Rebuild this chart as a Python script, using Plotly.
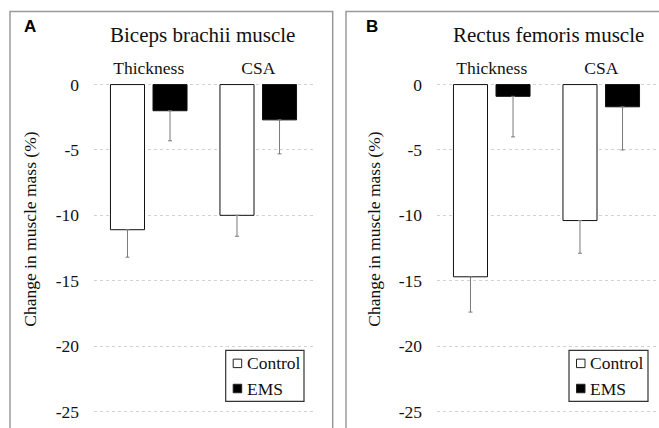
import plotly.graph_objects as go

# Change in muscle mass (%) after the intervention, mean and SD
measures = ["Thickness", "CSA"]
groups = ["Control", "EMS"]

biceps_control = [-11.1, -10.0]
biceps_control_sd = [2.1, 1.6]
biceps_ems = [-2.0, -2.7]
biceps_ems_sd = [2.3, 2.6]

rectus_control = [-14.7, -10.4]
rectus_control_sd = [2.7, 2.5]
rectus_ems = [-0.9, -1.7]
rectus_ems_sd = [3.1, 3.3]

y_ticks = [0, -5, -10, -15, -20, -25]
y_tick_labels = ["0", "-5", "-10", "-15", "-20", "-25"]

W, H = 659, 428
SERIF = "Liberation Serif"
SANS = "Liberation Sans"
INK = "#111111"


def fx(p):
    return p / W


def fy(p):
    return 1 - p / H


def bar(name, x, y, sd, fill, xa, ya):
    return go.Bar(
        name=name, x=x, y=y, xaxis=xa, yaxis=ya, showlegend=False,
        marker=dict(color=fill, line=dict(color="#111111", width=1)),
        error_y=dict(type="data", symmetric=False, array=[0] * len(sd),
                     arrayminus=sd, color="#7a7a7a", thickness=1, width=2),
    )


fig = go.Figure()
fig.add_trace(bar(groups[0], measures, biceps_control, biceps_control_sd, "white", "x", "y"))
fig.add_trace(bar(groups[1], measures, biceps_ems, biceps_ems_sd, "black", "x", "y"))
fig.add_trace(bar(groups[0], measures, rectus_control, rectus_control_sd, "white", "x2", "y2"))
fig.add_trace(bar(groups[1], measures, rectus_ems, rectus_ems_sd, "black", "x2", "y2"))

y_top, y_bot = 76.1, 420.9
text_font = dict(family=SERIF, size=17.5, color=INK)
xaxis_common = dict(side="top", showgrid=False, showline=False, ticks="",
                    tickfont=text_font, range=[-0.5, 1.5], fixedrange=True)
yaxis_common = dict(range=[-25.5, 0.5], tickvals=y_ticks, ticktext=y_tick_labels,
                    ticks="", showline=False, zeroline=False, showgrid=True,
                    gridcolor="#d2d2d2", griddash="dot", gridwidth=1,
                    tickfont=text_font, ticklabelstandoff=14,
                    domain=[fy(y_bot), fy(y_top)])

fig.update_layout(
    width=W, height=H, margin=dict(l=0, r=0, t=0, b=0),
    paper_bgcolor="white", plot_bgcolor="white",
    font=dict(family=SERIF, color=INK),
    barmode="group", bargap=0.223, bargroupgap=0.2,
    xaxis=dict(domain=[fx(94), fx(313)], anchor="y", **xaxis_common),
    xaxis2=dict(domain=[fx(437), fx(656)], anchor="y2", **xaxis_common),
    yaxis=dict(anchor="x", **yaxis_common),
    yaxis2=dict(anchor="x2", **yaxis_common),
)

# panel frames
for x0, x1 in [(10, 332.7), (346, 680)]:
    fig.add_shape(type="rect", xref="paper", yref="paper",
                  x0=fx(x0), x1=fx(x1), y0=fy(8.5), y1=fy(450),
                  line=dict(color="#9a9a9a", width=1.5), fillcolor="rgba(0,0,0,0)")

panels = [
    dict(letter="A", letter_x=22, title="Biceps brachii muscle", title_x=202.5,
         ytitle_x=30, legend_x0=225.7, legend_x1=304),
    dict(letter="B", letter_x=364, title="Rectus femoris muscle", title_x=548,
         ytitle_x=374, legend_x0=569, legend_x1=648),
]

for p in panels:
    fig.add_annotation(text=f"<b>{p['letter']}</b>", xref="paper", yref="paper",
                       x=fx(p["letter_x"]), y=fy(24), xanchor="left", yanchor="middle",
                       showarrow=False, font=dict(family=SANS, size=17, color="black"))
    fig.add_annotation(text=p["title"], xref="paper", yref="paper",
                       x=fx(p["title_x"]), y=fy(32), xanchor="center", yanchor="middle",
                       showarrow=False, font=dict(family=SERIF, size=21, color=INK))
    fig.add_annotation(text="Change in muscle mass (%)", xref="paper", yref="paper",
                       x=fx(p["ytitle_x"]), y=fy(229), textangle=-90,
                       xanchor="center", yanchor="middle", showarrow=False,
                       font=text_font)

    # legend box
    lx0, lx1 = p["legend_x0"], p["legend_x1"]
    fig.add_shape(type="rect", xref="paper", yref="paper",
                  x0=fx(lx0), x1=fx(lx1), y0=fy(352.3), y1=fy(404),
                  line=dict(color="#333333", width=1.2), fillcolor="white")
    for name, fill, cy in [(groups[0], "white", 365.5), (groups[1], "black", 391)]:
        fig.add_shape(type="rect", xref="paper", yref="paper",
                      x0=fx(lx0 + 7.5), x1=fx(lx0 + 16), y0=fy(cy - 4.3), y1=fy(cy + 4.3),
                      line=dict(color="#222222", width=1), fillcolor=fill)
        fig.add_annotation(text=name, xref="paper", yref="paper",
                           x=fx(lx0 + 19), y=fy(cy), xanchor="left", yanchor="middle",
                           showarrow=False, font=text_font)

fig.write_html("out.html")
